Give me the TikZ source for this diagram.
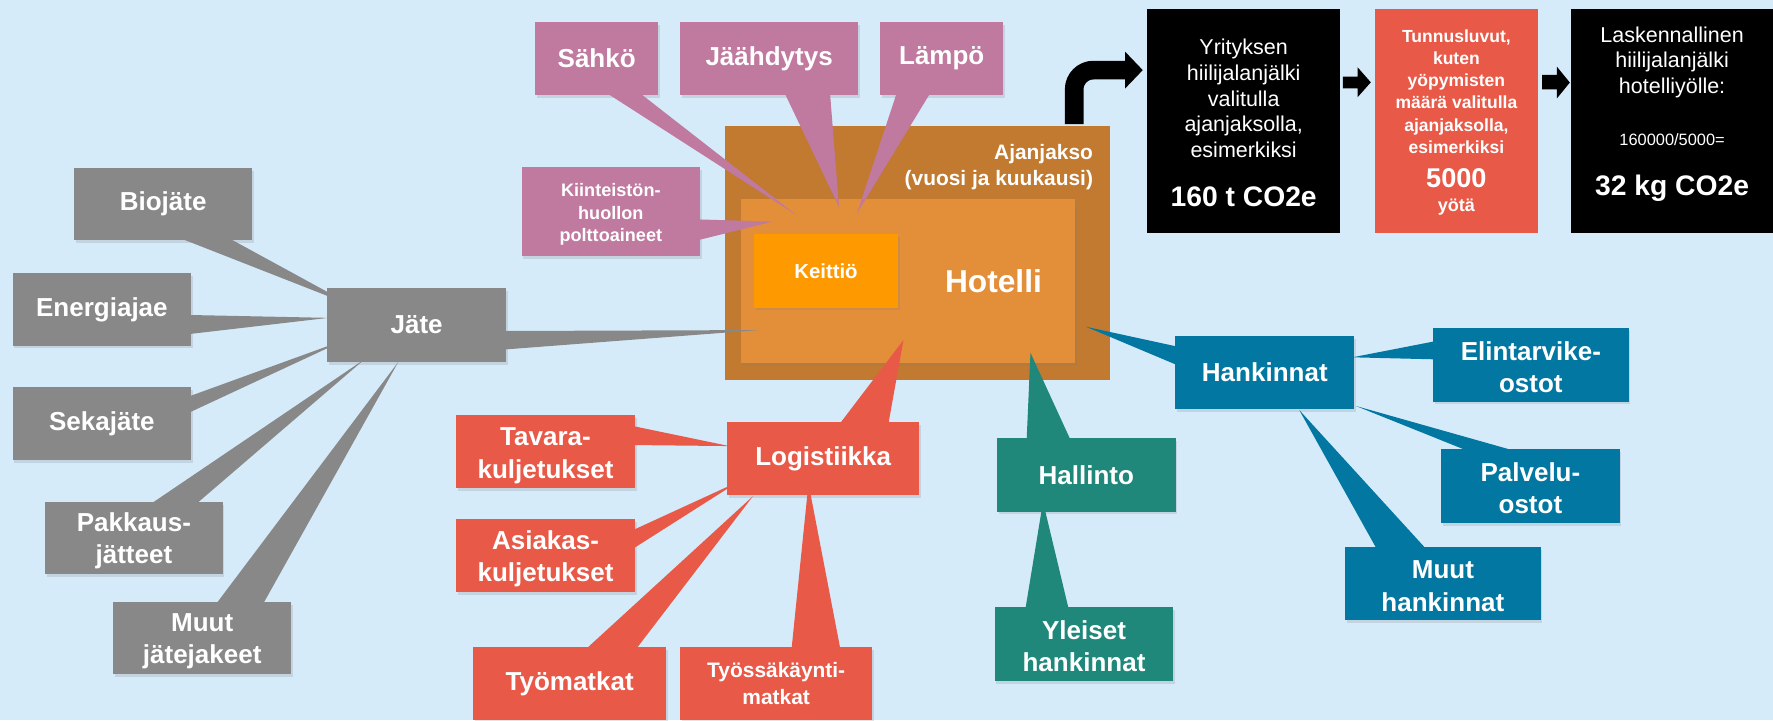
\documentclass[tikz,border=0pt]{standalone}
\usepackage{fontspec}
\setmainfont{Liberation Sans}
\usetikzlibrary{calc,shadows}

\definecolor{cbg}{RGB}{214,235,250}
\definecolor{cpurple}{RGB}{192,121,159}
\definecolor{cgray}{RGB}{136,136,136}
\definecolor{cout}{RGB}{193,122,48}
\definecolor{cin}{RGB}{227,143,58}
\definecolor{ckeit}{RGB}{255,153,0}
\definecolor{cred}{RGB}{232,89,72}
\definecolor{cblue}{RGB}{1,119,161}
\definecolor{cteal}{RGB}{31,136,122}

\newcommand\fs[2]{\fontsize{#1}{#2}\selectfont}
\newcommand\tstrut[1]{\rule{0pt}{#1pt}}
% callout tails: style colour, node, base fractions, tip
\newcommand\calS[5]{\fill[#1] ($(#2.south west)!#3!(#2.south east)+(0,-1.5)$) -- (#5) -- ($(#2.south west)!#4!(#2.south east)+(0,-1.5)$) -- cycle;}
\newcommand\calN[5]{\fill[#1] ($(#2.north west)!#3!(#2.north east)+(0,1.5)$) -- (#5) -- ($(#2.north west)!#4!(#2.north east)+(0,1.5)$) -- cycle;}
\newcommand\calE[5]{\fill[#1] ($(#2.north east)!#3!(#2.south east)+(-1.5,0)$) -- (#5) -- ($(#2.north east)!#4!(#2.south east)+(-1.5,0)$) -- cycle;}
\newcommand\calW[5]{\fill[#1] ($(#2.north west)!#3!(#2.south west)+(1.5,0)$) -- (#5) -- ($(#2.north west)!#4!(#2.south west)+(1.5,0)$) -- cycle;}

\tikzset{
  shad/.style={drop shadow={shadow xshift=1.5pt,shadow yshift=-2.5pt,opacity=0.22}},
  box/.style={rectangle, inner sep=0pt, align=center, text=white,
    font=\bfseries\fs{23}{28.5}, shad},
  pbox/.style={box, fill=cpurple},
  gbox/.style={box, fill=cgray},
  rbox/.style={box, fill=cred},
  blubox/.style={box, fill=cblue},
  tbox/.style={box, fill=cteal},
  plain/.style={rectangle, inner sep=0pt, align=center, text=white},
  panel/.style={rectangle, inner sep=0pt, minimum height=197.7},
}

\begin{document}
\begin{tikzpicture}[x=1pt,y=-1pt]
\useasboundingbox (0,0) rectangle (1568,637);
\fill[cbg] (0,0) rectangle (1568,637);
\clip (0,0) rectangle (1568,637);

% ---------------- Hotel ----------------
\node[rectangle, inner sep=0pt, fill=cout, minimum width=340.5, minimum height=224.6] (hotelout) at (811.25,223.7) {};
\node[plain, anchor=east, align=right, font=\bfseries\fs{18.5}{23}] (ajan) at (966.8,147.7) {Ajanjakso\\(vuosi ja kuukausi)};
\node[rectangle, inner sep=0pt, fill=cin, shad, minimum width=295.8, minimum height=145] (hotel) at (802.9,248.8) {};
\node[box, fill=ckeit, font=\bfseries\fs{18}{22}, minimum width=127, minimum height=65] (keittio) at (730.5,239.5) {Keittiö};
\node[plain, font=\bfseries\fs{28}{32}] (hotelT) at (878.6,249) {Hotelli};

% bent arrow to first panel
\coordinate (bendstart) at ($(hotelout.north west)!0.907!(hotelout.north east)+(0,-1.5)$);
\coordinate (bendend) at (996,62);
\coordinate (bendtip) at (1010.6,62);
\draw[line width=16.5, rounded corners=17] (bendstart) |- (bendend);
\fill (995,45.7) -- (bendtip) -- (995,78.3) -- cycle;

% ---------------- Energy (purple) ----------------
\node[pbox, minimum width=109, minimum height=64.8] (sahko) at (527.7,51.6) {Sähkö};
\node[pbox, minimum width=157.6, minimum height=64.8] (jaah) at (680.2,51.6) {Jäähdytys};
\node[pbox, minimum width=109.1, minimum height=64.8] (lampo) at (832.85,51.6) {Lämpö};
\node[pbox, font=\bfseries\fs{16}{20}, minimum width=157.6, minimum height=79] (kiint) at (540.2,186.9) {\tstrut{17.2}Kiinteistön-\\huollon\\polttoaineet};
\coordinate (tSahko) at (704,190);
\coordinate (tJaah) at (742,183);
\coordinate (tLampo) at (758,188.5);
\coordinate (tKiint) at (683,196);
\calS{cpurple}{sahko}{0.587}{0.853}{tSahko}
\calS{cpurple}{jaah}{0.588}{0.841}{tJaah}
\calS{cpurple}{lampo}{0.135}{0.405}{tLampo}
\calE{cpurple}{kiint}{0.59}{0.82}{tKiint}

% ---------------- Waste (gray) ----------------
\node[gbox, minimum width=158, minimum height=65] (jate) at (368.5,287.5) {Jäte};
\coordinate (tJate) at (671,291.9);
\calE{cgray}{jate}{0.58}{0.83}{tJate}
\node[gbox, minimum width=157.8, minimum height=64] (bio) at (144.3,180.5) {Biojäte};
\node[gbox, minimum width=157.8, minimum height=64.1] (energ) at (90.1,273.6) {Energiajae};
\node[gbox, minimum width=157.8, minimum height=64.1] (seka) at (90.1,374.7) {Sekajäte};
\node[gbox, minimum width=157.2, minimum height=64.2] (pakk) at (118.4,475.9) {\tstrut{21.8}Pakkaus-\\jätteet};
\node[gbox, minimum width=157.2, minimum height=64.2] (muutj) at (178.8,564.3) {\tstrut{21.8}Muut\\jätejakeet};
\coordinate (tBio) at (312.5,270.7);
\coordinate (tEnerg) at (290.4,281.1);
\coordinate (tSeka) at (306.6,300);
\coordinate (tPakk) at (322.8,317.4);
\coordinate (tMuutj) at (352.3,320);
\calS{cgray}{bio}{0.604}{0.874}{tBio}
\calE{cgray}{energ}{0.577}{0.838}{tEnerg}
\calE{cgray}{seka}{0.123}{0.345}{tSeka}
\calN{cgray}{pakk}{0.6}{0.854}{tPakk}
\calN{cgray}{muutj}{0.581}{0.844}{tMuutj}

% ---------------- Logistics (red) ----------------
\node[rbox, minimum width=170, minimum height=64.8] (logi) at (728,405.4) {Logistiikka};
\coordinate (tLogi) at (799,300.7);
\calN{cred}{logi}{0.588}{0.839}{tLogi}
\node[rbox, minimum width=158.3, minimum height=64.3] (tava) at (482.45,399.15) {\tstrut{23.5}Tavara-\\kuljetukset};
\node[rbox, minimum width=158.3, minimum height=64.6] (asia) at (482.45,491) {\tstrut{23.5}Asiakas-\\kuljetukset};
\node[rbox, minimum width=170.4, minimum height=65] (tyom) at (503.8,604.5) {Työmatkat};
\node[rbox, font=\bfseries\fs{18.5}{23.6}, minimum width=170.1, minimum height=65] (tyossa) at (686.45,604.5) {Työssäkäynti-\\matkat};
\coordinate (tTava) at (645,394.5);
\coordinate (tAsia) at (653,426);
\coordinate (tTyom) at (666,438.7);
\coordinate (tTyossa) at (715,427.5);
\calE{cred}{tava}{0.156}{0.414}{tTava}
\calE{cred}{asia}{0.155}{0.407}{tAsia}
\calN{cred}{tyom}{0.589}{0.847}{tTyom}
\calN{cred}{tyossa}{0.58}{0.832}{tTyossa}

% ---------------- Administration (teal) ----------------
\node[tbox, minimum width=157.9, minimum height=64.8] (hall) at (960.65,420.1) {Hallinto};
\coordinate (tHall) at (911.3,312);
\calN{cteal}{hall}{0.167}{0.412}{tHall}
\node[tbox, minimum width=157.9, minimum height=65] (ylei) at (958.65,569.5) {\tstrut{20.5}Yleiset\\hankinnat};
\coordinate (tYlei) at (922.4,443.7);
\calN{cteal}{ylei}{0.173}{0.414}{tYlei}

% ---------------- Procurement (blue) ----------------
\node[blubox, minimum width=158.1, minimum height=64.7] (hank) at (1118.55,329.35) {Hankinnat};
\coordinate (tHank) at (960.5,289);
\calW{cblue}{hank}{0.148}{0.399}{tHank}
\node[blubox, minimum width=172.9, minimum height=64.8] (elin) at (1353.85,322.8) {\tstrut{21}Elintarvike-\\ostot};
\node[blubox, minimum width=157.9, minimum height=64.9] (palv) at (1353.45,429.85) {\tstrut{21}Palvelu-\\ostot};
\node[blubox, minimum width=172.9, minimum height=64.8] (muuth) at (1276.05,515.9) {\tstrut{21}Muut\\hankinnat};
\coordinate (tElin) at (1196,316);
\coordinate (tPalv) at (1199,359);
\coordinate (tMuuth) at (1149,362.6);
\calW{cblue}{elin}{0.179}{0.423}{tElin}
\calN{cblue}{palv}{0.149}{0.412}{tPalv}
\calN{cblue}{muuth}{0.16}{0.411}{tMuuth}

% ---------------- Calculation panels ----------------
\node[panel, fill=black, minimum width=170.3] (yrit) at (1099.85,107.15) {};
\node[plain, font=\fs{19}{22.8}] (yritT) at (1099.85,87) {Yrityksen\\hiilijalanjälki\\valitulla\\ajanjaksolla,\\esimerkiksi};
\node[plain, font=\bfseries\fs{25}{30}] (yritV) at (1099.85,174) {160 t CO2e};

\node[panel, fill=cred, minimum width=144] (tunn) at (1288,107.15) {};
\node[plain, font=\bfseries\fs{15.5}{19.6}] (tunnT) at (1288,81) {Tunnusluvut,\\kuten\\yöpymisten\\määrä valitulla\\ajanjaksolla,\\esimerkiksi};
\node[plain, font=\bfseries\fs{24}{28}] (tunnV) at (1288,157.7) {5000};
\node[plain, font=\bfseries\fs{16}{19}] (tunnU) at (1288,182.8) {yötä};

\node[panel, fill=black, minimum width=178.5] (lask) at (1478.75,107.15) {};
\node[plain, font=\fs{19}{22.8}] (laskT) at (1478.75,55.2) {Laskennallinen\\hiilijalanjälki\\hotelliyölle:};
\node[plain, font=\fs{14.5}{17}] (laskF) at (1478.75,123.8) {160000/5000=};
\node[plain, font=\bfseries\fs{25}{30}] (laskV) at (1478.75,166.6) {32 kg CO2e};

% small block arrows between panels
\fill ($(yrit.east)+(2.5,-39.35)$) coordinate (a1) -- ++(12.9,0) -- ++(0,-8.3) -- ($(tunn.west)+(-3.5,-34.35)$) coordinate (a1tip) -- ($(yrit.east)+(15.4,-21.15)$) -- ++(0,-7.9) -- ++(-12.9,0) -- cycle;
\fill ($(tunn.east)+(3.5,-40.85)$) coordinate (a2) -- ++(13.2,0) -- ++(0,-7.3) -- ($(lask.west)+(-1,-34.15)$) coordinate (a2tip) -- ($(tunn.east)+(16.7,-20.15)$) -- ++(0,-8) -- ++(-13.2,0) -- cycle;
\end{tikzpicture}
\end{document}
